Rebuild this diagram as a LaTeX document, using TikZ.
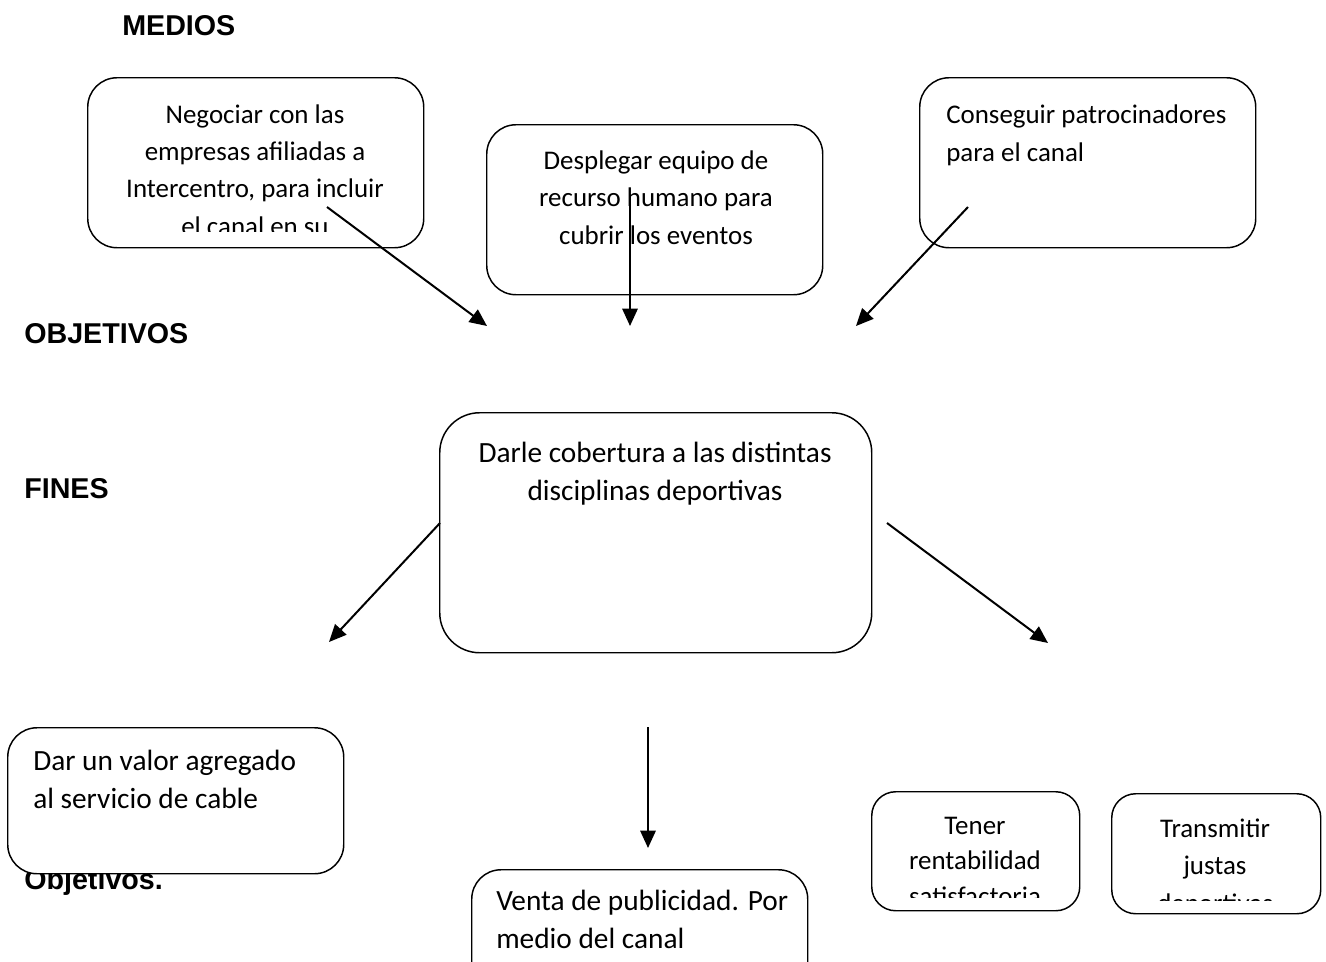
\documentclass[tikz,border=0pt]{standalone}
\usepackage{fontspec}
\setmainfont{Carlito}
\newfontfamily\headfont{Liberation Sans}
\usetikzlibrary{arrows.meta}
\tikzset{
x=0.75pt, y=-0.75pt, % one unit is one pixel of the page, y going down
box/.style={draw, line width=1.1pt, fill=white, rounded corners=22pt, anchor=north west, inner sep=0pt}, % the rounded boxes
smallbox/.style={box, rounded corners=18pt}, % the two narrow boxes at the right
boxtext/.style={font=\fontsize{22}{28}\selectfont, anchor=base, align=center, inner sep=0pt}, % text in the boxes, placed at its last line
lefttext/.style={boxtext, anchor=base west, align=left}, % left aligned text
smaller/.style={font=\fontsize{20.2}{28}\selectfont}, % some boxes have a smaller text
head/.style={font=\headfont\bfseries\fontsize{21.5}{26}\selectfont, anchor=base west, inner sep=0pt}, % the titles
arrow/.style={-{Triangle[length=13pt,width=11.5pt]}, line width=1.5pt}, % the arrows
}

\begin{document}
\begin{tikzpicture}
    \useasboundingbox (0,0) rectangle (1326,961);

    % titles
    \node[head] (medios) at (122,35) {MEDIOS};
    \node[head] (objetivos) at (24,343) {OBJETIVOS};
    \node[head] (fines) at (24,498) {FINES};
    \node[head] (objetivos2) at (24,889) {Objetivos.};

    % boxes
    \node[box, minimum width=252pt, minimum height=127.5pt] (medio1) at (87,77) {};
    \node[box, minimum width=252pt, minimum height=127.5pt] (medio2) at (486,124) {};
    \node[box, minimum width=252pt, minimum height=127.5pt] (medio3) at (919,77) {};
    \node[box, minimum width=324pt, minimum height=180pt, rounded corners=30pt] (objetivo) at (439,412) {};
    \node[box, minimum width=252pt, minimum height=109.5pt] (fin1) at (7,727) {};
    \node[box, minimum width=252pt, minimum height=96pt] (fin2) at (471,869) {};
    \node[smallbox, minimum width=156pt, minimum height=89.25pt] (fin3) at (871,791) {};
    \node[smallbox, minimum width=156.75pt, minimum height=90pt] (fin4) at (1111,793) {};

    % texts
    \begin{scope}
        \clip (87,77) rectangle (423,231);
        \node[boxtext, smaller] (t1) at (255,235) {Negociar con las\\empresas afiliadas a\\Intercentro, para incluir\\el canal en su};
    \end{scope}
    \node[boxtext, smaller] (t2) at (656,244) {Desplegar equipo de\\recurso humano para\\cubrir los eventos};
    \node[lefttext, smaller] (t3) at (946,161) {Conseguir patrocinadores\\para el canal};
    \node[boxtext] (t4) at (655,500) {Darle cobertura a las distintas\\disciplinas deportivas};
    \node[lefttext] (t5) at (33,808) {Dar un valor agregado\\al servicio de cable};
    \node[lefttext] (t6) at (496,948) {Venta de publicidad. Por\\medio del canal};
    \begin{scope}
        \clip (871,791) rectangle (1079,897);
        \node[boxtext, smaller, font=\fontsize{20.2}{26.5}\selectfont] (t7) at (975,905) {Tener\\rentabilidad\\satisfactoria};
    \end{scope}
    \begin{scope}
        \clip (1111,793) rectangle (1320,900);
        \node[boxtext, smaller] (t8) at (1215,912) {Transmitir\\justas\\deportivas};
    \end{scope}

    % arrow ends
    \coordinate (a1s) at (327,207);  \coordinate (a1e) at (487,326);
    \coordinate (a2s) at (630,195);  \coordinate (a2e) at (630,326);
    \coordinate (a3s) at (968,207);  \coordinate (a3e) at (856,326);
    \coordinate (a4s) at (440,523);  \coordinate (a4e) at (329,642);
    \coordinate (a5s) at (887,523);  \coordinate (a5e) at (1048,643);
    \coordinate (a6s) at (648,727);  \coordinate (a6e) at (648,848);

    \draw[arrow] (a1s) -- (a1e);
    \draw[arrow] (a2s) -- (a2e);
    \draw[arrow] (a3s) -- (a3e);
    \draw[arrow] (a4s) -- (a4e);
    \draw[arrow] (a5s) -- (a5e);
    \draw[arrow] (a6s) -- (a6e);
\end{tikzpicture}
\end{document}
